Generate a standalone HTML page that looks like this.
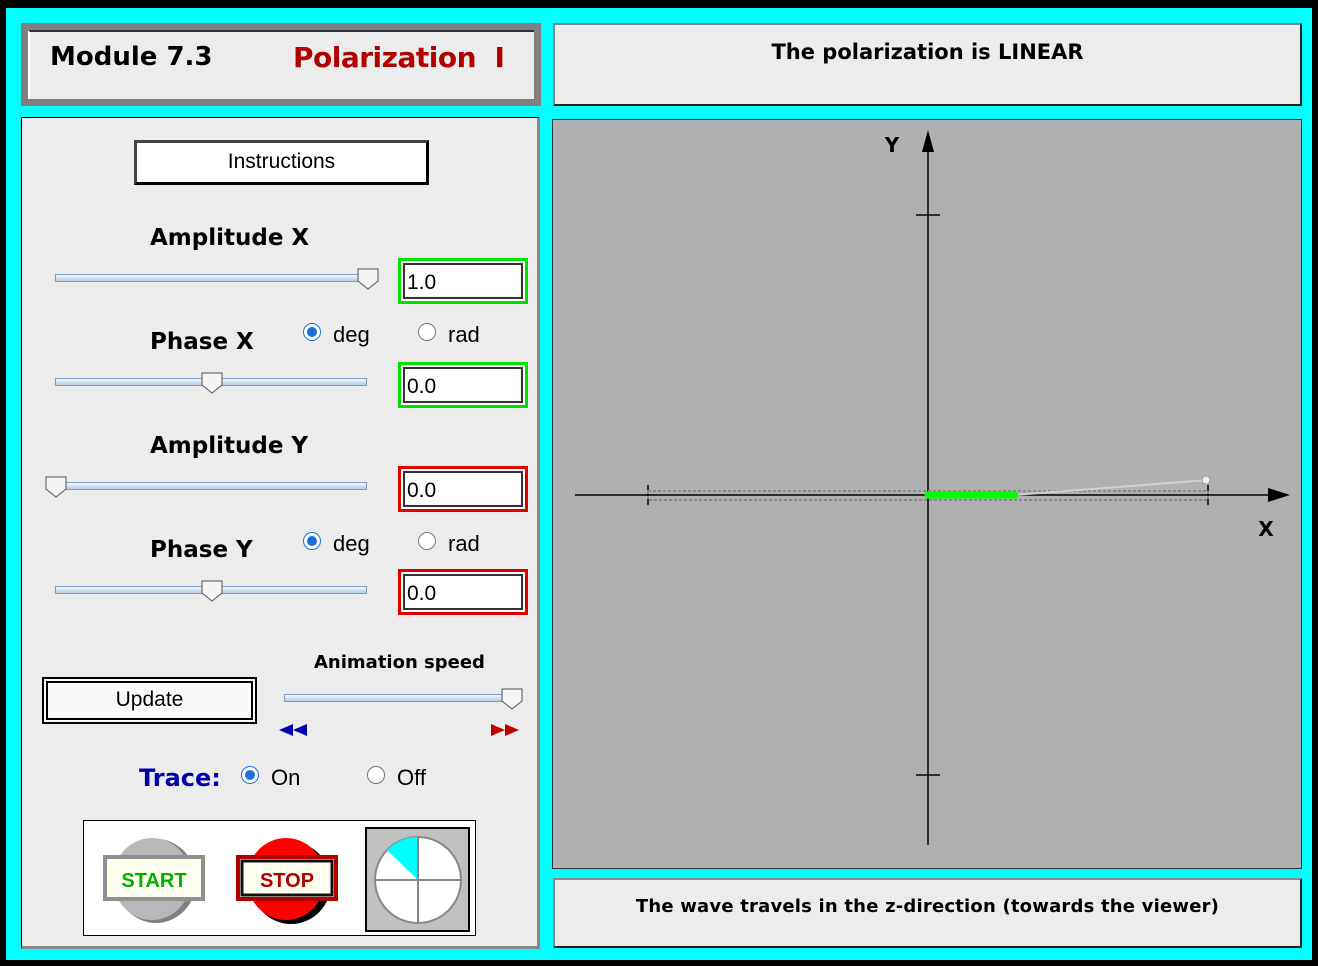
<!DOCTYPE html>
<html><head><meta charset="utf-8"><style>
*{box-sizing:border-box}
body{margin:0;width:1318px;height:966px;background:#000;font-family:"Liberation Sans",sans-serif;position:relative;overflow:hidden}
.abs{position:absolute}
.cy{left:6px;top:8px;width:1306px;height:952px;background:#00ffff}
.b{font-family:"DejaVu Sans",sans-serif;font-weight:bold}
.slider{position:absolute;height:8px;background:linear-gradient(#f4f8fc,#b8cce4);border:1px solid #7a9cc8}
.thumb{position:absolute;width:22px;height:22px}
.tf{position:absolute;width:130px;height:46px;background:#fff;font-size:21px;padding:10px 0 0 6px}
.tf::before{content:"";position:absolute;left:2px;top:2px;right:2px;bottom:2px;border:2px solid #333}
.radio{position:absolute;width:18px;height:18px;border-radius:50%;border:1px solid #777;background:#fff}
.radio.on::after{content:"";position:absolute;left:3px;top:3px;width:10px;height:10px;border-radius:50%;background:#1a6fe0}
.radio.on{border-color:#1a6fe0}
.lbl{position:absolute;font-size:22px}
</style></head><body>
<div class="abs cy"></div>

<div class="abs" style="left:21px;top:23px;width:520px;height:83px;background:#808080;padding:7px">
 <div style="width:100%;height:100%;background:#ececec;border-left:2px solid #fff;border-top:2px solid #333"></div>
</div>
<div class="abs b" style="left:50px;top:42px;font-size:26px">Module 7.3</div>
<div class="abs b" style="left:293px;top:41px;font-size:28px;color:#b00000;letter-spacing:-0.5px">Polarization&nbsp; I</div>

<div class="abs" style="left:553px;top:23px;width:749px;height:83px;background:#ececec;border:2px solid #888;border-right-color:#222;border-bottom-color:#222"></div>
<div class="abs b" style="left:553px;top:40px;width:749px;text-align:center;font-size:21px">The polarization is LINEAR</div>

<div class="abs" style="left:21px;top:117px;width:519px;height:832px;background:#ececec;border:1px solid #000;border-right:3px solid #888;border-bottom:3px solid #888"></div>

<div class="abs" style="left:134px;top:140px;width:295px;height:45px;background:#fff;border:3px solid #000;border-top-color:#444;border-left-color:#444;font-size:21px;text-align:center;line-height:38px">Instructions</div>

<div class="abs b" style="left:150px;top:225px;font-size:23px">Amplitude X</div>
<div class="slider" style="left:55px;top:274px;width:312px"></div>
<svg class="thumb" style="left:357px;top:268px" viewBox="0 0 22 22"><path d="M1 1H21V13L11 21L1 13Z" fill="#f4f4f4" stroke="#555"/></svg>
<div class="tf" style="left:398px;top:258px;border:3px solid #00e000">1.0</div>

<div class="abs b" style="left:150px;top:329px;font-size:23px">Phase X</div>
<div class="radio on" style="left:303px;top:323px"></div>
<div class="lbl" style="left:333px;top:322px">deg</div>
<div class="radio" style="left:418px;top:323px"></div>
<div class="lbl" style="left:448px;top:322px">rad</div>
<div class="slider" style="left:55px;top:378px;width:312px"></div>
<svg class="thumb" style="left:201px;top:372px" viewBox="0 0 22 22"><path d="M1 1H21V13L11 21L1 13Z" fill="#f4f4f4" stroke="#555"/></svg>
<div class="tf" style="left:398px;top:362px;border:3px solid #00e000">0.0</div>

<div class="abs b" style="left:150px;top:433px;font-size:23px">Amplitude Y</div>
<div class="slider" style="left:55px;top:482px;width:312px"></div>
<svg class="thumb" style="left:45px;top:476px" viewBox="0 0 22 22"><path d="M1 1H21V13L11 21L1 13Z" fill="#f4f4f4" stroke="#555"/></svg>
<div class="tf" style="left:398px;top:466px;border:3px solid #e00000">0.0</div>

<div class="abs b" style="left:150px;top:537px;font-size:23px">Phase Y</div>
<div class="radio on" style="left:303px;top:532px"></div>
<div class="lbl" style="left:333px;top:531px">deg</div>
<div class="radio" style="left:418px;top:532px"></div>
<div class="lbl" style="left:448px;top:531px">rad</div>
<div class="slider" style="left:55px;top:586px;width:312px"></div>
<svg class="thumb" style="left:201px;top:580px" viewBox="0 0 22 22"><path d="M1 1H21V13L11 21L1 13Z" fill="#f4f4f4" stroke="#555"/></svg>
<div class="tf" style="left:398px;top:569px;border:3px solid #e00000">0.0</div>

<div class="abs b" style="left:314px;top:652px;font-size:18px">Animation speed</div>
<div class="abs" style="left:42px;top:677px;width:215px;height:47px;background:#fafafa;border:3px double #000;border-width:6px;font-size:21px;text-align:center;line-height:33px">Update</div>
<div class="slider" style="left:284px;top:694px;width:230px"></div>
<svg class="thumb" style="left:501px;top:688px" viewBox="0 0 22 22"><path d="M1 1H21V13L11 21L1 13Z" fill="#f4f4f4" stroke="#555"/></svg>
<svg class="abs" style="left:279px;top:724px" width="30" height="12"><path d="M0 6L14 0V12Z M14 6L28 0V12Z" fill="#0000b0"/></svg>
<svg class="abs" style="left:491px;top:724px" width="30" height="12"><path d="M0 0L14 6L0 12Z M14 0L28 6L14 12Z" fill="#c00000"/></svg>

<div class="abs b" style="left:139px;top:764px;font-size:24px;color:#0000b0">Trace:</div>
<div class="radio on" style="left:241px;top:766px"></div>
<div class="lbl" style="left:271px;top:765px">On</div>
<div class="radio" style="left:367px;top:766px"></div>
<div class="lbl" style="left:397px;top:765px">Off</div>

<div class="abs" style="left:83px;top:820px;width:393px;height:116px;background:#fff;border:1px solid #000"></div>
<svg class="abs" style="left:103px;top:838px" width="104" height="86">
 <ellipse cx="53" cy="43" rx="40" ry="42" fill="#808080"/><ellipse cx="49" cy="41" rx="39" ry="41" fill="#b8b8b8"/>
 <rect x="2" y="19" width="98" height="42" fill="#fffff0" stroke="#909090" stroke-width="4"/>
 <text x="51" y="49" text-anchor="middle" font-family="Liberation Sans" font-weight="bold" font-size="20" fill="#00b000">START</text></svg>
<svg class="abs" style="left:236px;top:838px" width="104" height="86">
 <ellipse cx="55" cy="45" rx="40" ry="41" fill="#000"/><ellipse cx="50" cy="41" rx="39" ry="41" fill="#ff0000"/>
 <rect x="2" y="19" width="98" height="42" fill="#fffff0" stroke="#b00000" stroke-width="4"/>
 <rect x="6" y="23" width="90" height="34" fill="none" stroke="#111" stroke-width="3"/>
 <text x="51" y="49" text-anchor="middle" font-family="Liberation Sans" font-weight="bold" font-size="20" fill="#b00000">STOP</text></svg>
<svg class="abs" style="left:365px;top:827px" width="105" height="105">
 <rect x="1" y="1" width="103" height="103" fill="#c0c0c0" stroke="#000" stroke-width="2"/>
 <circle cx="53" cy="53" r="43" fill="#fff" stroke="#888" stroke-width="2"/>
 <path d="M53 53 L53 10 A43 43 0 0 0 22 23 Z" fill="#00ffff"/>
 <line x1="10" y1="53" x2="96" y2="53" stroke="#888" stroke-width="2"/><line x1="53" y1="10" x2="53" y2="96" stroke="#888" stroke-width="2"/></svg>

<div class="abs" style="left:552px;top:119px;width:750px;height:750px;background:#b0b0b0;border:1px solid #333"></div>
<svg class="abs" id="plot" style="left:0;top:0" width="1318" height="966"></svg>

<div class="abs" style="left:553px;top:878px;width:749px;height:70px;background:#ececec;border:2px solid #888;border-right-color:#222;border-bottom-color:#222"></div>
<div class="abs b" style="left:553px;top:896px;width:749px;text-align:center;font-size:18px;letter-spacing:0.2px">The wave travels in the z-direction (towards the viewer)</div>

<script>
const tickValues=[-1,1];
const ampX=[1.0];
const ampY=[0.0];
const fieldX=[0.31];
const fieldY=[0.0];
const cx=928,cy=495,scale=280;
const sx=v=>cx+v*scale, sy=v=>cy-v*scale;
const svg=document.getElementById('plot');
const NS='http://www.w3.org/2000/svg';
function mk(t,a){const e=document.createElementNS(NS,t);for(const k in a)e.setAttribute(k,a[k]);svg.appendChild(e);return e;}
let e;
e=mk('line',{x1:575,y1:cy,x2:1275,y2:cy,stroke:'#000','stroke-width':1.5});


e=mk('path',{d:`M1268 ${cy-7} L1290 ${cy} L1268 ${cy+7}Z`,fill:'#000'});


e=mk('line',{x1:cx,y1:150,x2:cx,y2:845,stroke:'#000','stroke-width':1.5});


e=mk('path',{d:`M${cx-6} 152 L${cx} 130 L${cx+6} 152Z`,fill:'#000'});


tickValues.forEach(v=>{
 e=mk('line',{x1:sx(v),y1:cy-10,x2:sx(v),y2:cy+10,stroke:'#000','stroke-width':1.5});
 
 
 e=mk('line',{x1:cx-12,y1:sy(v),x2:cx+12,y2:sy(v),stroke:'#000','stroke-width':1.5});
 
 
});
e=mk('text',{x:1266,y:536,'text-anchor':'middle','font-family':'DejaVu Sans','font-weight':'bold','font-size':20});
e.textContent='X';


e=mk('text',{x:892,y:152,'text-anchor':'middle','font-family':'DejaVu Sans','font-weight':'bold','font-size':20});
e.textContent='Y';


e=mk('rect',{x:sx(-ampX[0]),y:cy-4-ampY[0]*scale,width:2*ampX[0]*scale,height:9+2*ampY[0]*scale,fill:'none',stroke:'#888','stroke-width':2,'stroke-dasharray':'3 2'});


e=mk('line',{x1:sx(fieldX[0]),y1:sy(fieldY[0]),x2:sx(ampX[0]),y2:cy-15,stroke:'#d0d0d0','stroke-width':2});


e=mk('circle',{cx:sx(ampX[0])-2,cy:cy-15,r:4,fill:'#eee',stroke:'#999'});


e=mk('line',{x1:cx,y1:cy,x2:sx(fieldX[0]),y2:sy(fieldY[0]),stroke:'#00ff00','stroke-width':7,'stroke-linecap':'round'});


</script>
</body></html>
